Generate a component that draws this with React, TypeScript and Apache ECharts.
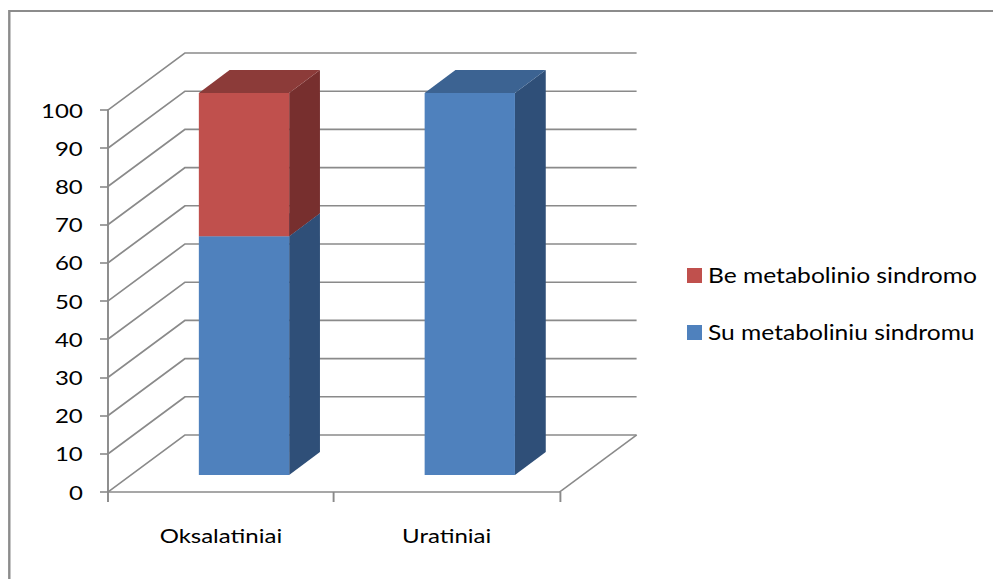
import React, { useEffect, useRef } from 'react';
import * as echarts from 'echarts';

// Share of patients (%) per stone type
const categories = ['Oksalatiniai', 'Uratiniai'];
const withSyndrome = [62.5, 100]; // Su metaboliniu sindromu
const withoutSyndrome = [37.5, 0]; // Be metabolinio sindromo
const yTicks = [0, 10, 20, 30, 40, 50, 60, 70, 80, 90, 100];

const seriesNames = ['Su metaboliniu sindromu', 'Be metabolinio sindromo'];
const seriesValues = [withSyndrome, withoutSyndrome];

// Face colours: front, top, side
const palettes = [
  { front: '#4F81BD', top: '#3C6392', side: '#2F4F78' },
  { front: '#C0504D', top: '#8C3B39', side: '#772F2E' },
];

// Horizontal stretch of the whole drawing
const SX = 1.2;
const PAGE_W = 993;
const PAGE_H = 579;
const LOCAL_W = PAGE_W / SX;

// Depth vector of the 3D box (full depth), local units
const DEPTH_X = 77 / SX;
const DEPTH_Y = -57;
// Bars occupy this slice of the depth
const BAR_FRONT = 0.3;
const BAR_BACK = 0.7;

const GRID_COLOR = '#8a8a8a';
const FONT = 'Lato, "Open Sans", sans-serif';

const gridLeft = 108 / SX;
const gridRight = LOCAL_W - 559 / SX;

// Stacked segments: [categoryIndex, start, end]
const stackedData = (() => {
  const base = categories.map(() => 0);
  return seriesValues.map((vals) =>
    vals.map((v, i) => {
      const start = base[i];
      base[i] += v;
      return [i, start, base[i]];
    })
  );
})();

function renderWall(params: any, api: any) {
  const cs = params.coordSys;
  const v = api.value(1);
  const y = api.coord([0, v])[1];
  const x0 = cs.x;
  const x1 = cs.x + cs.width;
  const style = { stroke: GRID_COLOR, lineWidth: 1.6, fill: 'none' };
  const children: any[] = [
    {
      type: 'polyline',
      shape: {
        points: [
          [x0, y],
          [x0 + DEPTH_X, y + DEPTH_Y],
          [x1 + DEPTH_X, y + DEPTH_Y],
        ],
      },
      style,
    },
  ];
  if (v === 0) {
    children.push({
      type: 'line',
      shape: { x1: x1, y1: y, x2: x1 + DEPTH_X, y2: y + DEPTH_Y },
      style,
    });
  }
  return { type: 'group', children };
}

function makeBarRenderer(pal: { front: string; top: string; side: string }) {
  return (params: any, api: any) => {
    const cat = api.value(0);
    const lo = api.value(1);
    const hi = api.value(2);
    if (hi - lo <= 0) return null;
    const [cx, yLo] = api.coord([cat, lo]);
    const yHi = api.coord([cat, hi])[1];
    const bw = api.size([1, 0])[0] * 0.4;
    const xl = cx - bw / 2 + BAR_FRONT * DEPTH_X;
    const xr = cx + bw / 2 + BAR_FRONT * DEPTH_X;
    const yb = yLo + BAR_FRONT * DEPTH_Y;
    const yt = yHi + BAR_FRONT * DEPTH_Y;
    const sx = (BAR_BACK - BAR_FRONT) * DEPTH_X;
    const sy = (BAR_BACK - BAR_FRONT) * DEPTH_Y;
    return {
      type: 'group',
      children: [
        {
          type: 'polygon',
          shape: { points: [[xr, yb], [xr, yt], [xr + sx, yt + sy], [xr + sx, yb + sy]] },
          style: { fill: pal.side },
        },
        {
          type: 'polygon',
          shape: { points: [[xl, yt], [xr, yt], [xr + sx, yt + sy], [xl + sx, yt + sy]] },
          style: { fill: pal.top },
        },
        {
          type: 'rect',
          shape: { x: xl, y: yt, width: bw, height: yb - yt },
          style: { fill: pal.front },
        },
      ],
    };
  };
}

export default function App() {
  const ref = useRef<HTMLDivElement>(null);

  useEffect(() => {
    if (!ref.current) return;
    const chart = echarts.init(ref.current, null, { renderer: 'svg' });
    chart.setOption({
      animation: false,
      backgroundColor: '#ffffff',
      textStyle: { fontFamily: FONT },
      graphic: [
        {
          type: 'rect',
          shape: { x: 9.3 / SX, y: 11, width: 2000, height: 2000 },
          style: { fill: 'none', stroke: '#8c8c8c', lineWidth: 2 },
          silent: true,
          z: 0,
        },
      ],
      grid: {
        left: gridLeft,
        right: gridRight,
        top: 110,
        bottom: PAGE_H - 492,
        containLabel: false,
      },
      legend: {
        orient: 'vertical',
        left: 572.5,
        top: 265,
        padding: 0,
        itemWidth: 15 / SX,
        itemHeight: 15,
        itemGap: 36,
        icon: 'rect',
        data: [seriesNames[1], seriesNames[0]],
        textStyle: { fontFamily: FONT, fontSize: 20.5, lineHeight: 20, color: '#000' },
        selectedMode: false,
      },
      xAxis: {
        type: 'category',
        data: categories,
        boundaryGap: true,
        axisLine: { show: true, lineStyle: { color: GRID_COLOR, width: 1.6 } },
        axisTick: { show: true, length: 10, lineStyle: { color: GRID_COLOR, width: 1.6 } },
        axisLabel: { margin: 33, fontFamily: FONT, fontSize: 20, color: '#000' },
        splitLine: { show: false },
      },
      yAxis: {
        type: 'value',
        min: 0,
        max: 100,
        interval: 10,
        axisLine: { show: true, lineStyle: { color: GRID_COLOR, width: 1.6 } },
        axisTick: { show: true, length: 8 / SX, lineStyle: { color: GRID_COLOR, width: 1.6 } },
        axisLabel: {
          margin: 21,
          fontFamily: FONT,
          fontSize: 20,
          color: '#000',
          formatter: (v: number) => (yTicks.includes(v) ? String(v) : ''),
        },
        splitLine: { show: false },
      },
      series: [
        {
          type: 'custom',
          name: 'walls',
          silent: true,
          z: 1,
          clip: false,
          data: yTicks.map((v) => [0, v]),
          encode: { x: 0, y: 1 },
          renderItem: renderWall,
        },
        ...seriesNames.map((name, k) => ({
          type: 'custom',
          name,
          z: 3,
          clip: false,
          itemStyle: { color: palettes[k].front },
          data: stackedData[k],
          encode: { x: 0, y: [1, 2] },
          renderItem: makeBarRenderer(palettes[k]),
        })),
      ],
    });
    return () => chart.dispose();
  }, []);

  return (
    <div
      style={{
        position: 'absolute',
        left: 0,
        top: 0,
        width: PAGE_W,
        height: PAGE_H,
        overflow: 'hidden',
        background: '#ffffff',
      }}
    >
      <div
        ref={ref}
        style={{
          width: LOCAL_W,
          height: PAGE_H,
          transform: `scaleX(${SX})`,
          transformOrigin: '0 0',
        }}
      />
    </div>
  );
}
